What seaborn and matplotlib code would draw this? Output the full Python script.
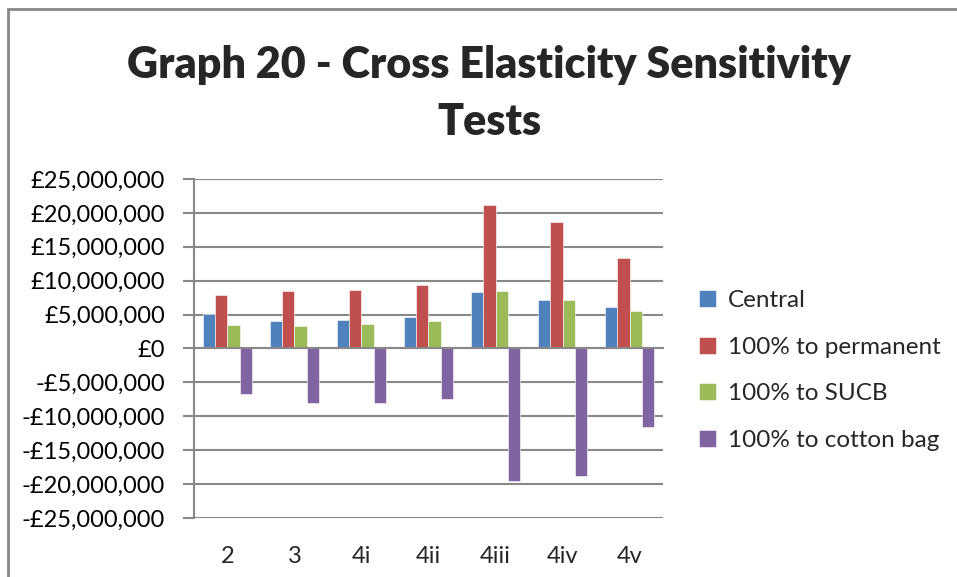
"""
Graph 20 - Cross Elasticity Sensitivity Tests
Grouped bar chart, four scenarios per test.
"""
import numpy as np
import pandas as pd
import matplotlib
matplotlib.use("Agg")
import matplotlib.pyplot as plt
from matplotlib.ticker import FuncFormatter, MultipleLocator
from matplotlib.patches import Rectangle
import seaborn as sns

# data (values in £)
tests = ["2", "3", "4i", "4ii", "4iii", "4iv", "4v"]
series_names = ["Central", "100% to permanent", "100% to SUCB", "100% to cotton bag"]
central = [5.11e6, 3.98e6, 4.13e6, 4.57e6, 8.26e6, 7.13e6, 6.10e6]
permanent = [7.87e6, 8.46e6, 8.60e6, 9.29e6, 21.19e6, 18.63e6, 13.32e6]
sucb = [3.44e6, 3.34e6, 3.54e6, 3.98e6, 8.50e6, 7.13e6, 5.51e6]
cotton_bag = [-6.78e6, -8.11e6, -8.01e6, -7.52e6, -19.52e6, -18.83e6, -11.65e6]

colors = ["#4F81BD", "#C0504D", "#9BBB59", "#8064A2"]
grid_col = "#888888"

df = pd.DataFrame({"Test": tests * 4,
                   "Series": np.repeat(series_names, len(tests)),
                   "Value": central + permanent + sucb + cotton_bag})

sns.set_style("white")
plt.rcParams["font.family"] = ["Lato", "DejaVu Sans"]

fig = plt.figure(figsize=(9.57, 5.77), dpi=100)
ax = fig.add_axes([0.2027, 0.1023, 0.4901, 0.5875])

sns.barplot(data=df, x="Test", y="Value", hue="Series", order=tests,
            hue_order=series_names, palette=colors, saturation=1, width=0.73,
            edgecolor="white", linewidth=0.4, ax=ax, legend=True)

ax.set_ylim(-25e6, 25e6)
ax.set_xlim(-0.5, len(tests) - 0.5)
ax.yaxis.set_major_locator(MultipleLocator(5e6))


def money(v, pos):
    v = int(round(v))
    if v == 0:
        return "£0"
    sign = "-" if v < 0 else ""
    return f"{sign}£{abs(v):,}"


ax.yaxis.set_major_formatter(FuncFormatter(money))
ax.grid(axis="y", color=grid_col, linewidth=1.5)
ax.set_axisbelow(True)
ax.set_xlabel("")
ax.set_ylabel("")

for s in ["top", "right"]:
    ax.spines[s].set_visible(False)
ax.spines["left"].set_color(grid_col)
ax.spines["left"].set_linewidth(1.5)
# category axis crosses at zero, ticks between groups
ax.spines["bottom"].set_position(("data", 0))
ax.spines["bottom"].set_color(grid_col)
ax.spines["bottom"].set_linewidth(1.5)
ax.set_xticks(np.arange(len(tests) + 1) - 0.5)
ax.tick_params(axis="x", length=8, width=1.5, color=grid_col, labelbottom=False)
ax.tick_params(axis="y", length=8, width=1.5, color=grid_col, direction="out",
               left=True, pad=13, labelsize=17, labelcolor="black")

# labels sit at the bottom of the plot area
sec = ax.secondary_xaxis("bottom")
sec.set_xticks(np.arange(len(tests)), labels=tests)
sec.tick_params(length=0, pad=20, labelsize=17)
sec.spines["bottom"].set_visible(False)

handles, labels = ax.get_legend_handles_labels()
ax.legend(handles, labels, loc="center left", bbox_to_anchor=(1.03, 0.435),
          frameon=False, fontsize=17.5, handlelength=0.7, handleheight=0.7,
          handletextpad=0.5, labelspacing=1.05)

fig.text(0.511, 0.888, "Graph 20 - Cross Elasticity Sensitivity", ha="center",
         va="center", fontsize=31, fontweight="heavy")
fig.text(0.511, 0.789, "Tests", ha="center", va="center", fontsize=31,
         fontweight="heavy")

fig.patches.append(Rectangle((8 / 957, -0.1), 1.2, 0.1 + (577 - 9) / 577,
                             transform=fig.transFigure, fill=False,
                             edgecolor=grid_col, linewidth=2))

plt.savefig("out.png", dpi=100)
plt.close()
print("Done")
